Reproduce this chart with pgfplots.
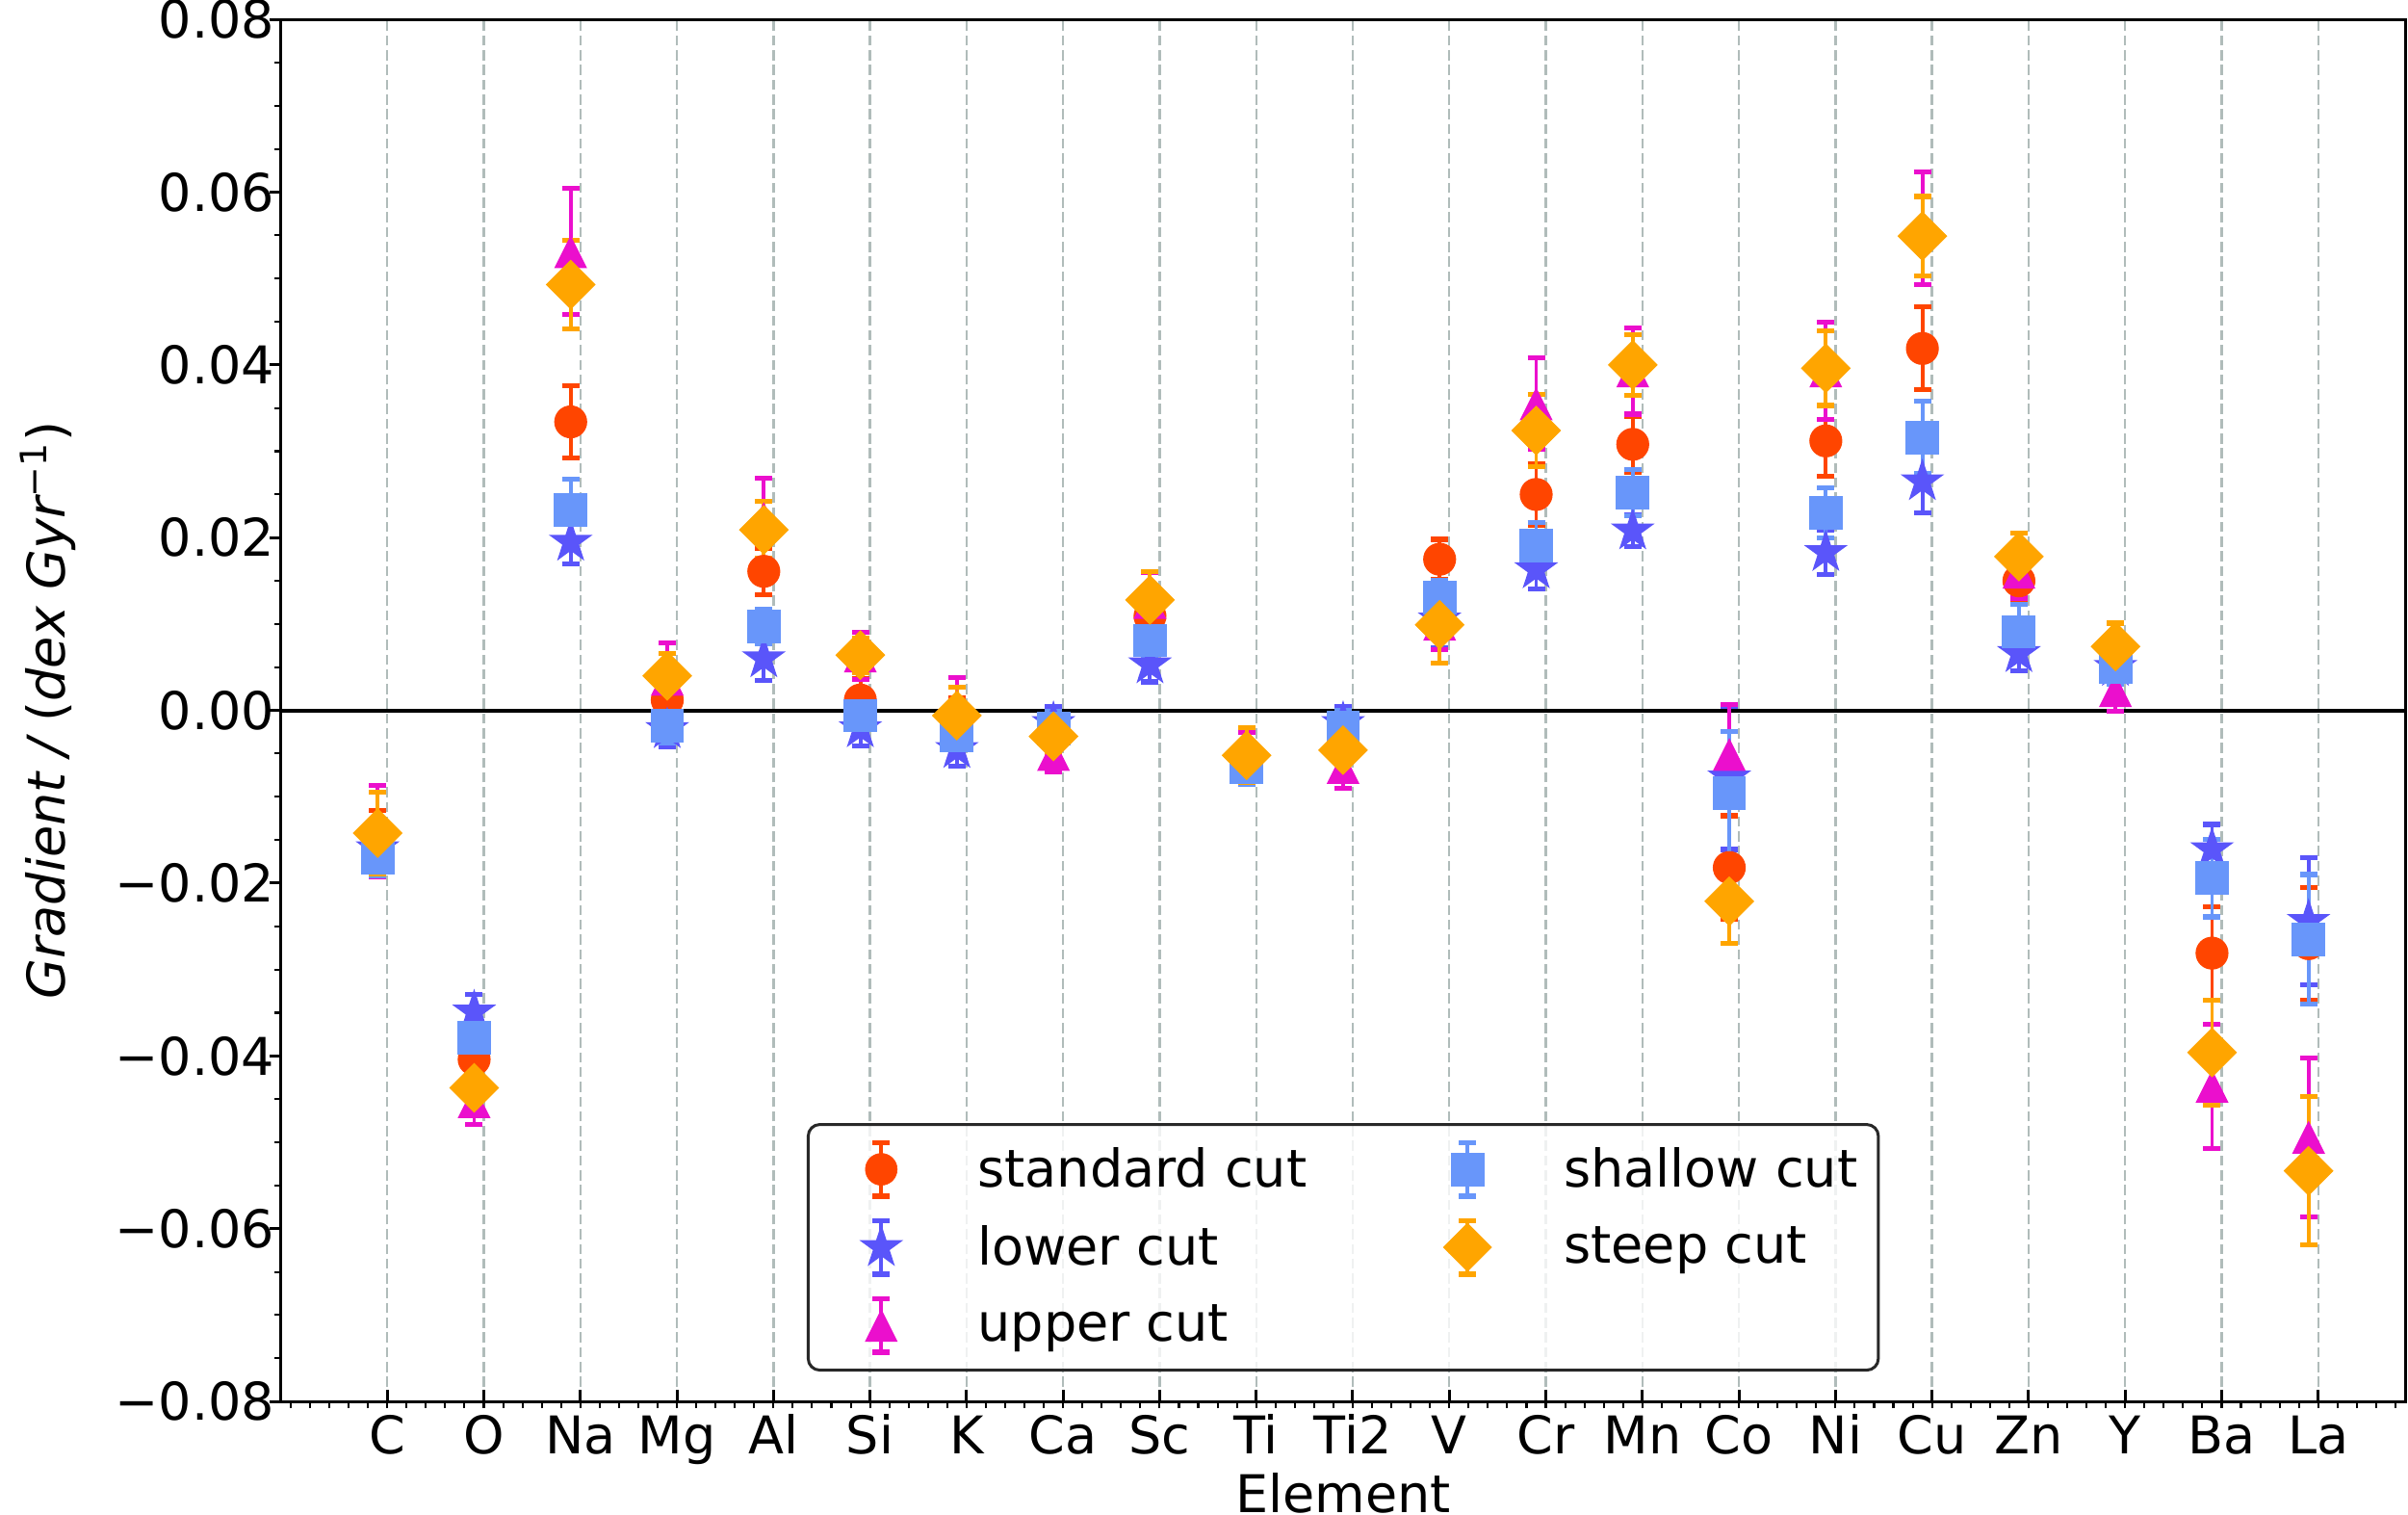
\documentclass[border=0pt]{standalone}
\usepackage{fontspec}
\setmainfont{DejaVu Sans}
\usepackage{pgfplots}
\pgfplotsset{compat=1.18}
\usepackage{pgfplotstable}
\usetikzlibrary{calc}

\definecolor{cstd}{RGB}{255,69,0}
\definecolor{clow}{RGB}{90,85,250}
\definecolor{cup}{RGB}{235,15,205}
\definecolor{csh}{RGB}{104,150,250}
\definecolor{cst}{RGB}{255,165,0}
\definecolor{cgrid}{RGB}{176,188,186}
\definecolor{cframe}{RGB}{40,40,40}

\newcommand\fs{\fontsize{18}{21.6}\selectfont}

\pgfdeclareplotmark{mtri}{%
  \pgfpathmoveto{\pgfqpoint{0pt}{\pgfplotmarksize}}%
  \pgfpathlineto{\pgfqpoint{\pgfplotmarksize}{-\pgfplotmarksize}}%
  \pgfpathlineto{\pgfqpoint{-\pgfplotmarksize}{-\pgfplotmarksize}}%
  \pgfpathclose\pgfusepathqfill}
\pgfdeclareplotmark{mstar}{%
  \pgfpathmoveto{\pgfqpointpolar{90}{\pgfplotmarksize}}%
  \pgfpathlineto{\pgfqpointpolar{126}{0.382\pgfplotmarksize}}%
  \pgfpathlineto{\pgfqpointpolar{162}{\pgfplotmarksize}}%
  \pgfpathlineto{\pgfqpointpolar{198}{0.382\pgfplotmarksize}}%
  \pgfpathlineto{\pgfqpointpolar{234}{\pgfplotmarksize}}%
  \pgfpathlineto{\pgfqpointpolar{270}{0.382\pgfplotmarksize}}%
  \pgfpathlineto{\pgfqpointpolar{306}{\pgfplotmarksize}}%
  \pgfpathlineto{\pgfqpointpolar{342}{0.382\pgfplotmarksize}}%
  \pgfpathlineto{\pgfqpointpolar{18}{\pgfplotmarksize}}%
  \pgfpathlineto{\pgfqpointpolar{54}{0.382\pgfplotmarksize}}%
  \pgfpathclose\pgfusepathqfill}

\pgfplotsset{
  ser/.style n args={4}{only marks, forget plot, color=#1, mark=#2, mark size=#3,
    mark options={fill=#1, draw=none, solid, #4},
    error bars/.cd, y dir=both, y explicit,
    error bar style={color=#1, line width=1.3pt, solid},
    error mark options={rotate=90, color=#1, line width=1.7pt, mark size=3pt, solid}},
}

\newcommand\legmark[4]{%
  \path[draw=none, fill=none, sharp corners] (0pt,-13.5pt) rectangle (51.5pt,13.5pt);
  \draw[sharp corners,color=#1,line width=1.3pt] (18.1pt,-9.3pt) -- (18.1pt,9.3pt);
  \draw[sharp corners,color=#1,line width=1.7pt] (15.1pt,-9.3pt) -- (21.1pt,-9.3pt) (15.1pt,9.3pt) -- (21.1pt,9.3pt);
  \path[draw=none, sharp corners] plot[mark=#2, mark size=#3, mark options={color=#1, fill=#1, draw=none, line width=0.2pt, fill opacity=1, sharp corners, #4}] coordinates {(18.1pt,0pt)};
}

\pgfplotstableread{
x std estd low elow up eup sh esh st est
-0.1 -0.0150 0.0034 -0.0160 0.0025 -0.0140 0.0053 -0.0171 0.0021 -0.0142 0.0047
0.9 -0.0404 0.0040 -0.0349 0.0020 -0.0453 0.0026 -0.0379 0.0030 -0.0437 0.0031
1.9 0.0334 0.0042 0.0195 0.0025 0.0531 0.0073 0.0232 0.0036 0.0493 0.0051
2.9 0.0012 0.0030 -0.0022 0.0020 0.0036 0.0042 -0.0018 0.0020 0.0040 0.0026
3.9 0.0161 0.0027 0.0060 0.0025 0.0222 0.0047 0.0097 0.0020 0.0209 0.0033
4.9 0.0012 0.0025 -0.0021 0.0020 0.0063 0.0027 -0.0006 0.0020 0.0064 0.0020
5.9 -0.0015 0.0030 -0.0045 0.0020 0.0005 0.0033 -0.0029 0.0020 -0.0006 0.0033
6.9 -0.0030 0.0020 -0.0015 0.0020 -0.0051 0.0020 -0.0021 0.0020 -0.0030 0.0020
7.9 0.0109 0.0030 0.0053 0.0020 0.0125 0.0035 0.0081 0.0020 0.0128 0.0033
8.9 -0.0062 0.0020 -0.0058 0.0020 -0.0050 0.0025 -0.0066 0.0020 -0.0052 0.0032
9.9 -0.0040 0.0020 -0.0015 0.0020 -0.0066 0.0024 -0.0020 0.0020 -0.0046 0.0025
10.9 0.0175 0.0023 0.0105 0.0032 0.0100 0.0030 0.0131 0.0020 0.0099 0.0044
11.9 0.0250 0.0036 0.0163 0.0022 0.0355 0.0053 0.0191 0.0027 0.0324 0.0042
12.9 0.0308 0.0032 0.0208 0.0018 0.0393 0.0050 0.0252 0.0027 0.0400 0.0035
13.9 -0.0182 0.0060 -0.0078 0.0083 -0.0051 0.0058 -0.0096 0.0072 -0.0221 0.0049
14.9 0.0312 0.0041 0.0183 0.0026 0.0393 0.0056 0.0229 0.0029 0.0396 0.0043
15.9 0.0419 0.0048 0.0265 0.0036 0.0558 0.0065 0.0316 0.0042 0.0549 0.0046
16.9 0.0150 0.0025 0.0066 0.0020 0.0160 0.0030 0.0091 0.0032 0.0178 0.0027
17.9 0.0060 0.0020 0.0050 0.0020 0.0023 0.0024 0.0050 0.0020 0.0074 0.0027
18.9 -0.0281 0.0054 -0.0161 0.0029 -0.0435 0.0072 -0.0194 0.0045 -0.0396 0.0061
19.9 -0.0270 0.0065 -0.0244 0.0074 -0.0494 0.0092 -0.0265 0.0075 -0.0533 0.0086
}\datatable

\begin{document}
\begin{tikzpicture}[font=\fs]
\begin{axis}[
  scale only axis, width=735.3pt, height=478.3pt,
  xmin=-1.1, xmax=20.9, ymin=-0.08, ymax=0.08,
  axis line style={line width=1pt, black},
  tick pos=left,
  xtick={0,...,20},
  xticklabels={C,O,Na,Mg,Al,Si,K,Ca,Sc,Ti,Ti2,V,Cr,Mn,Co,Ni,Cu,Zn,Y,Ba,La},
  minor xtick={-1,-0.8,...,20.8},
  ytick={-0.08,-0.06,-0.04,-0.02,0,0.02,0.04,0.06,0.08},
  yticklabels={−0.08,−0.06,−0.04,−0.02,0.00,0.02,0.04,0.06,0.08},
  minor y tick num=3,
  xtick align=inside, ytick align=outside,
  major tick length=4pt, minor tick length=2.3pt,
  major tick style={line width=1pt, black},
  minor tick style={line width=0.7pt, black},
  minor x tick style={yshift=-2.3pt},
  xmajorgrids=true,
  major grid style={cgrid, line width=0.8pt, dash pattern=on 3.5pt off 1.6pt},
  xticklabel style={font=\fs, anchor=base, yshift=-18pt},
  yticklabel style={font=\fs, anchor=east, inner sep=0pt, xshift=1.9pt},
  xlabel={Element},
  xlabel style={font=\fs, at={(axis description cs:0.5,0)}, anchor=base, yshift=-38.3pt},
  ylabel={{\itshape Gradient / }(\itshape dex Gyr\textsuperscript{\upshape −1}\upshape)},
  ylabel style={font=\fs, at={(axis description cs:-0.1097,0.5)}, anchor=center},
  legend columns=2,
  legend cell align=left,
  legend style={at={(0.2475,0.0216)}, anchor=south west, font=\fs,
    draw=cframe, line width=1pt, rounded corners=4pt, fill=white, fill opacity=0.8, text opacity=1,
    inner xsep=7.2pt, inner ysep=2pt, column sep=0pt, row sep=0pt,
    nodes={inner sep=0pt},
    /tikz/every even column/.append style={column sep=37.5pt}},
]
\addplot[black, line width=1.3pt, forget plot] coordinates {(-1.1,0) (20.9,0)};
\addplot[ser={cstd}{*}{5.5pt}{}] table[x=x,y=std,y error=estd]{\datatable};
\addplot[ser={clow}{mstar}{8pt}{}] table[x=x,y=low,y error=elow]{\datatable};
\addplot[ser={cup}{mtri}{5.7pt}{}] table[x=x,y=up,y error=eup]{\datatable};
\addplot[ser={csh}{square*}{5.6pt}{}] table[x=x,y=sh,y error=esh]{\datatable};
\addplot[ser={cst}{square*}{5.9pt}{rotate=45}] table[x=x,y=st,y error=est]{\datatable};

\addlegendimage{legend image code/.code={\legmark{cstd}{*}{5.5pt}{}}}
\addlegendentry{standard cut}
\addlegendimage{legend image code/.code={\legmark{csh}{square*}{5.6pt}{}}}
\addlegendentry{shallow cut}
\addlegendimage{legend image code/.code={\legmark{clow}{mstar}{8pt}{}}}
\addlegendentry{lower cut}
\addlegendimage{legend image code/.code={\legmark{cst}{square*}{5.9pt}{rotate=45}}}
\addlegendentry{steep cut}
\addlegendimage{legend image code/.code={\legmark{cup}{mtri}{5.7pt}{}}}
\addlegendentry{upper cut}

\coordinate (ll) at (rel axis cs:0,0);
\coordinate (ur) at (rel axis cs:1,1);
\end{axis}
\pgfresetboundingbox
\path ($(ll)+(-97.3pt,-39pt)$) rectangle ($(ur)+(1pt,6.7pt)$);
\end{tikzpicture}
\end{document}
